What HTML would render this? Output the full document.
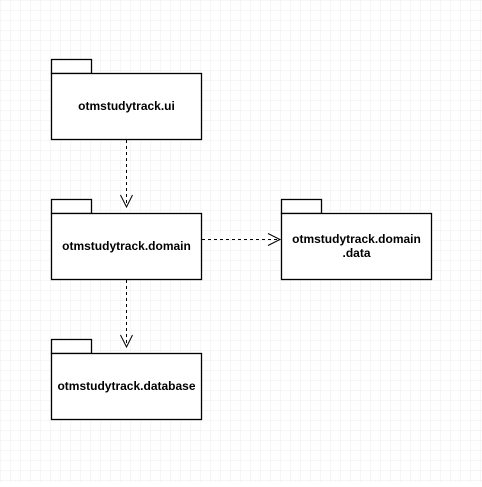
<!DOCTYPE html>
<html><head><style>body{margin:0;background:#fff}</style></head><body>
<svg width="482" height="482" xmlns="http://www.w3.org/2000/svg" font-family="Liberation Sans, sans-serif">
<defs><pattern id="g" width="10" height="10" patternUnits="userSpaceOnUse" x="0.5" y="0.5"><path d="M10 0H0V10" fill="none" stroke="#ececec" stroke-width="1"/></pattern></defs>
<rect width="482" height="482" fill="url(#g)"/>
<g fill="#fff" stroke="#000" stroke-width="1.3">
<rect x="51.5" y="59.5" width="40" height="14"/><rect x="51.5" y="73.5" width="150" height="66"/>
<rect x="51.5" y="199.5" width="40" height="14"/><rect x="51.5" y="213.5" width="150" height="66"/>
<rect x="281.5" y="199.5" width="40" height="14"/><rect x="281.5" y="213.5" width="150" height="66"/>
<rect x="51.5" y="339.5" width="40" height="14"/><rect x="51.5" y="353.5" width="150" height="66"/>
</g>
<g stroke="#000" fill="none" stroke-width="1">
<path d="M126.5 140V206" stroke-dasharray="3,3"/><path d="M120.5 195L126.5 207L132.5 195"/>
<path d="M126.5 280V346" stroke-dasharray="3,3"/><path d="M120.5 335L126.5 347L132.5 335"/>
<path d="M202 239.5H279" stroke-dasharray="3,3"/><path d="M268 233.5L280 239.5L268 245.5"/>
</g>
<g font-size="12" font-weight="bold" text-anchor="middle" fill="#000">
<text x="126.5" y="110">otmstudytrack.ui</text>
<text x="126.5" y="250">otmstudytrack.domain</text>
<text x="356.5" y="243">otmstudytrack.domain</text>
<text x="356.5" y="257">.data</text>
<text x="126.5" y="390">otmstudytrack.database</text>
</g>
</svg>
</body></html>
